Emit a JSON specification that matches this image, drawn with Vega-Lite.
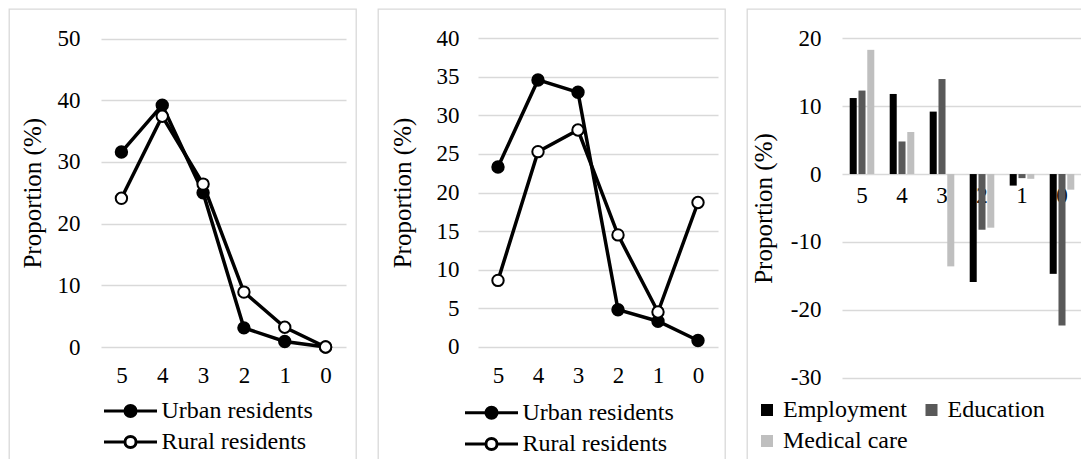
{
  "$schema": "https://vega.github.io/schema/vega-lite/v6.json",
  "padding": {"left": 8, "top": 8, "right": 0, "bottom": 0},
  "background": "white",
  "spacing": 20,
  "datasets": {
    "p1": [
      {"cat": "5", "series": "Urban residents", "value": 31.6},
      {"cat": "4", "series": "Urban residents", "value": 39.2},
      {"cat": "3", "series": "Urban residents", "value": 25.0},
      {"cat": "2", "series": "Urban residents", "value": 3.1},
      {"cat": "1", "series": "Urban residents", "value": 0.9},
      {"cat": "0", "series": "Urban residents", "value": 0.0},
      {"cat": "5", "series": "Rural residents", "value": 24.1},
      {"cat": "4", "series": "Rural residents", "value": 37.4},
      {"cat": "3", "series": "Rural residents", "value": 26.4},
      {"cat": "2", "series": "Rural residents", "value": 8.9},
      {"cat": "1", "series": "Rural residents", "value": 3.2},
      {"cat": "0", "series": "Rural residents", "value": 0.0}
    ],
    "p2": [
      {"cat": "5", "series": "Urban residents", "value": 23.3},
      {"cat": "4", "series": "Urban residents", "value": 34.6},
      {"cat": "3", "series": "Urban residents", "value": 33.0},
      {"cat": "2", "series": "Urban residents", "value": 4.8},
      {"cat": "1", "series": "Urban residents", "value": 3.3},
      {"cat": "0", "series": "Urban residents", "value": 0.8},
      {"cat": "5", "series": "Rural residents", "value": 8.6},
      {"cat": "4", "series": "Rural residents", "value": 25.3},
      {"cat": "3", "series": "Rural residents", "value": 28.1},
      {"cat": "2", "series": "Rural residents", "value": 14.5},
      {"cat": "1", "series": "Rural residents", "value": 4.5},
      {"cat": "0", "series": "Rural residents", "value": 18.7}
    ],
    "p3": [
      {"cat": "5", "series": "Employment", "value": 11.2},
      {"cat": "4", "series": "Employment", "value": 11.8},
      {"cat": "3", "series": "Employment", "value": 9.2},
      {"cat": "2", "series": "Employment", "value": -15.9},
      {"cat": "1", "series": "Employment", "value": -1.7},
      {"cat": "0", "series": "Employment", "value": -14.7},
      {"cat": "5", "series": "Education", "value": 12.3},
      {"cat": "4", "series": "Education", "value": 4.8},
      {"cat": "3", "series": "Education", "value": 14.0},
      {"cat": "2", "series": "Education", "value": -8.2},
      {"cat": "1", "series": "Education", "value": -0.6},
      {"cat": "0", "series": "Education", "value": -22.3},
      {"cat": "5", "series": "Medical care", "value": 18.3},
      {"cat": "4", "series": "Medical care", "value": 6.2},
      {"cat": "3", "series": "Medical care", "value": -13.6},
      {"cat": "2", "series": "Medical care", "value": -7.9},
      {"cat": "1", "series": "Medical care", "value": -0.7},
      {"cat": "0", "series": "Medical care", "value": -2.3}
    ]
  },
  "resolve": {
    "scale": {"x": "independent", "y": "independent", "fill": "independent", "color": "independent"},
    "legend": {"fill": "independent", "color": "independent"}
  },
  "config": {
    "view": {"stroke": "#d9d9d9", "strokeWidth": 1.3},
    "font": "'Liberation Serif', 'Times New Roman', serif",
    "axis": {
      "domain": false, "ticks": false, "grid": false,
      "labelFont": "'Liberation Serif', 'Times New Roman', serif", "labelFontSize": 23, "labelColor": "black",
      "titleFont": "'Liberation Serif', 'Times New Roman', serif", "titleFontSize": 25, "titleFontWeight": "normal", "titleColor": "black",
      "gridColor": "#d9d9d9", "gridWidth": 1.5
    },
    "axisY": {"grid": true},
    "axisX": {"labelAngle": 0},
    "legend": {
      "labelFont": "'Liberation Serif', 'Times New Roman', serif", "labelFontSize": 24, "labelColor": "black",
      "padding": 0, "symbolOffset": 0, "labelLimit": 300
    }
  },
  "hconcat": [
    {
      "width": 347, "height": 455,
      "data": {"name": "p1"},
      "encoding": {
        "x": {"field": "cat", "type": "nominal", "sort": ["5", "4", "3", "2", "1", "0"],
              "scale": {"type": "point", "padding": 0.5, "range": [92, 337]},
              "axis": {"title": null, "offset": -117, "labelPadding": 17}},
        "y": {"field": "value", "type": "quantitative",
              "scale": {"domain": [0, 50], "range": [338, 29.5], "nice": false},
              "axis": {"title": "Proportion (%)", "values": [0, 10, 20, 30, 40, 50], "offset": -79, "labelPadding": 8, "titlePadding": 12}}
      },
      "layer": [
        {"mark": {"type": "line", "color": "black", "strokeWidth": 3.5},
         "encoding": {"detail": {"field": "series"}}},
        {"mark": {"type": "point", "filled": true, "shape": "circle", "size": 130, "stroke": "black", "strokeWidth": 2, "opacity": 1},
         "encoding": {
           "fill": {"field": "series", "type": "nominal",
                    "scale": {"domain": ["Urban residents", "Rural residents"], "range": ["black", "white"]},
                    "legend": {"title": null, "orient": "none", "legendX": 93.5, "legendY": 390,
                               "symbolType": "M-1,0L-0.21,0M0.21,0L1,0M0.21,0A0.21,0.21,0,1,1,-0.21,0A0.21,0.21,0,1,1,0.21,0Z",
                               "symbolSize": 2809, "symbolStrokeColor": "black", "symbolStrokeWidth": 3,
                               "clipHeight": 24, "rowPadding": 7, "labelOffset": 3}}
         }}
      ]
    },
    {
      "width": 347, "height": 455,
      "data": {"name": "p2"},
      "encoding": {
        "x": {"field": "cat", "type": "nominal", "sort": ["5", "4", "3", "2", "1", "0"],
              "scale": {"type": "point", "padding": 0.5, "range": [100, 340]},
              "axis": {"title": null, "offset": -117, "labelPadding": 17}},
        "y": {"field": "value", "type": "quantitative",
              "scale": {"domain": [0, 40], "range": [337.7, 29.3], "nice": false},
              "axis": {"title": "Proportion (%)", "values": [0, 5, 10, 15, 20, 25, 30, 35, 40], "offset": -89, "labelPadding": 8, "titlePadding": 21}}
      },
      "layer": [
        {"mark": {"type": "line", "color": "black", "strokeWidth": 3.5},
         "encoding": {"detail": {"field": "series"}}},
        {"mark": {"type": "point", "filled": true, "shape": "circle", "size": 130, "stroke": "black", "strokeWidth": 2, "opacity": 1},
         "encoding": {
           "fill": {"field": "series", "type": "nominal",
                    "scale": {"domain": ["Urban residents", "Rural residents"], "range": ["black", "white"]},
                    "legend": {"title": null, "orient": "none", "legendX": 85.5, "legendY": 391.7,
                               "symbolType": "M-1,0L-0.21,0M0.21,0L1,0M0.21,0A0.21,0.21,0,1,1,-0.21,0A0.21,0.21,0,1,1,0.21,0Z",
                               "symbolSize": 2809, "symbolStrokeColor": "black", "symbolStrokeWidth": 3,
                               "clipHeight": 24, "rowPadding": 7.3, "labelOffset": 3}}
         }}
      ]
    },
    {
      "width": 347, "height": 455,
      "data": {"name": "p3"},
      "mark": {"type": "bar"},
      "encoding": {
        "x": {"field": "cat", "type": "nominal", "sort": ["5", "4", "3", "2", "1", "0"],
              "scale": {"range": [95, 335], "paddingInner": 0.385, "paddingOuter": 0.1925},
              "axis": {"title": null, "offset": -289.7, "labelPadding": 10}},
        "xOffset": {"field": "series", "type": "nominal", "sort": ["Employment", "Education", "Medical care"],
                    "scale": {"paddingInner": 0.2, "paddingOuter": 0}},
        "y": {"field": "value", "type": "quantitative",
              "scale": {"domain": [-30, 20], "range": [368.7, 29.3], "nice": false, "zero": false},
              "axis": {"title": "Proportion (%)", "values": [-30, -20, -10, 0, 10, 20], "labelExpr": "'' + datum.value",
                       "offset": -82, "labelPadding": 8, "titlePadding": 14}},
        "color": {"field": "series", "type": "nominal", "sort": ["Employment", "Education", "Medical care"],
                  "scale": {"domain": ["Employment", "Education", "Medical care"], "range": ["#000000", "#595959", "#bfbfbf"]},
                  "legend": {"title": null, "orient": "none", "legendX": 8, "legendY": 389, "columns": 2, "columnPadding": 11.5,
                             "values": ["Employment", "Medical care", "Education"],
                             "rowPadding": 7, "clipHeight": 24, "symbolType": "square", "symbolSize": 144, "symbolStrokeWidth": 0,
                             "labelOffset": 4}}
      }
    }
  ]
}
